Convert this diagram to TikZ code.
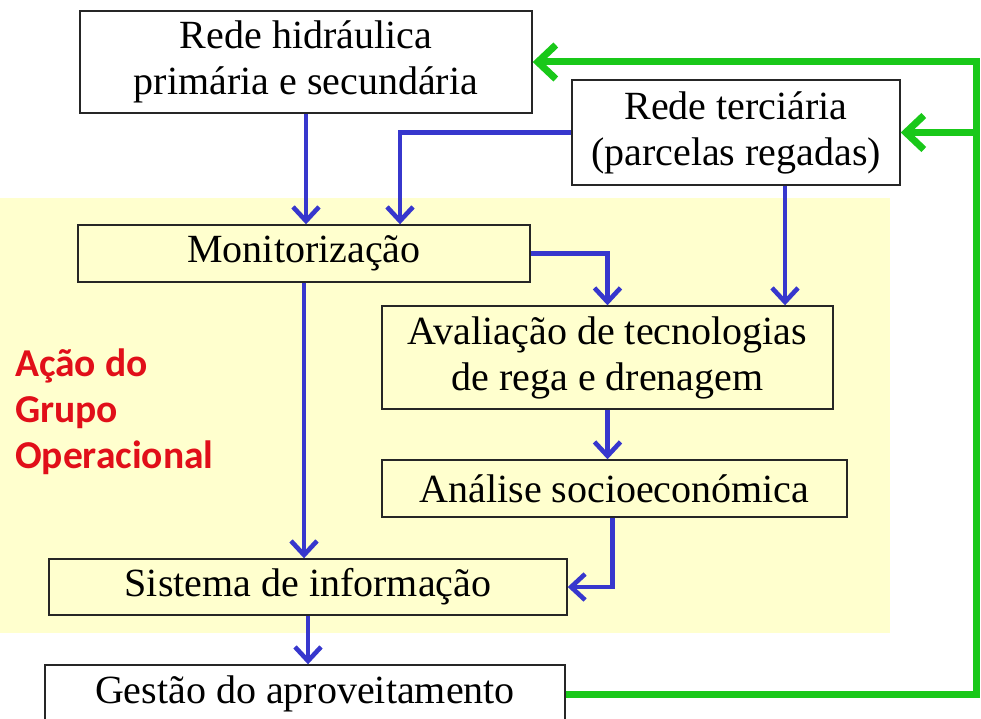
\documentclass[tikz,border=0pt]{standalone}
\usepackage{fontspec}
\setmainfont{Liberation Serif}
\newfontfamily\redfont{Carlito}
\usetikzlibrary{arrows.meta}
\definecolor{bgyellow}{RGB}{255,255,206}
\definecolor{arrblue}{RGB}{55,55,205}
\definecolor{arrgreen}{RGB}{25,200,25}
\definecolor{labred}{RGB}{225,15,25}
\begin{document}
\begin{tikzpicture}[x=1pt,y=-1pt,
  box/.style={draw=black!85,line width=1.4pt,align=center,inner sep=0pt,
    font=\fontsize{40}{46}\selectfont},
  wbox/.style={box,fill=white},
  ybox/.style={box,fill=bgyellow},
  barrow/.style={draw=arrblue,line width=4.6pt,
    -{Straight Barb[length=14pt,width=26pt,line width=4.6pt]}},
  garrow/.style={draw=arrgreen,line width=7pt,
    -{Straight Barb[length=18pt,width=34pt,line width=7pt]}},
  lab/.style={text=labred,align=left,inner sep=0pt,
    font=\redfont\bfseries\fontsize{39.5}{46}\selectfont}]
\useasboundingbox (0,0) rectangle (981,719);
\fill[bgyellow] (0,198) rectangle (890,633);

\node[wbox,minimum width=452,minimum height=102] (hid) at (306,62) {Rede hidráulica\\primária e secundária};
\node[wbox,minimum width=328,minimum height=105] (ter) at (736,132.5) {Rede terciária\\(parcelas regadas)};
\node[ybox,minimum width=452,minimum height=57] (mon) at (304,253.5) {Monitorização};
\node[ybox,minimum width=451,minimum height=103] (ava) at (607.5,357.5) {Avaliação de tecnologias\\de rega e drenagem};
\node[ybox,minimum width=465,minimum height=57] (ana) at (614.5,488.5) {Análise socioeconómica};
\node[ybox,minimum width=518,minimum height=56] (sis) at (308,587) {Sistema de informação};
\node[wbox,minimum width=520,minimum height=58] (ges) at (305,694) {Gestão do aproveitamento};
\node[lab,anchor=west] (grupo) at (15,412) {Ação do\\Grupo\\Operacional};

\coordinate (gr) at (976,0);

\draw[barrow] (hid.south) -- (hid.south |- mon.north);
\draw[barrow] (ter.west) -| ([xshift=96]mon.north);
\draw[barrow] (mon.east) -| (ava.north);
\draw[barrow] ([xshift=49]ter.south) -- ([xshift=49]ter.south |- ava.north);
\draw[barrow] (ava.south) -- (ava.south |- ana.north);
\draw[barrow] ([xshift=-2]ana.south) |- (sis.east);
\draw[barrow] (mon.south) -- (mon.south |- sis.north);
\draw[barrow] (sis.south) -- (sis.south |- ges.north);

\draw[garrow] (ges.east) -| (gr |- hid.east) -- (hid.east);
\draw[garrow] (gr |- ter.east) -- (ter.east);
\end{tikzpicture}
\end{document}
